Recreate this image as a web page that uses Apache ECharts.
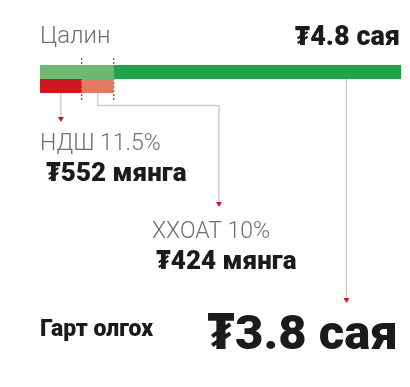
<!DOCTYPE html>
<html><head><meta charset="utf-8">
<script src="https://cdn.jsdelivr.net/npm/echarts@6/dist/echarts.min.js"></script>
<style>html,body{margin:0;padding:0;background:#fff}#c{width:410px;height:387px}</style>
</head><body><div id="c"></div>
<script>
var rows = ['Цалин', 'Суутгал'];
var ndsh = 552;      // мянга
var hhoat = 424;     // мянга
var gart = 3800;     // мянга (₮3.8 сая)
var labelTotal = '₮4.8 сая';
var labelNdsh = 'НДШ 11.5%';
var labelNdshVal = '₮552 мянга';
var labelHhoat = 'ХХОАТ 10%';
var labelHhoatVal = '₮424 мянга';
var labelGart = 'Гарт олгох';
var labelGartVal = '₮3.8 сая';

var total = ndsh + hhoat + gart;
var chart = echarts.init(document.getElementById('c'), null, {renderer: 'canvas'});
var FONT = 'Roboto, "Noto Sans", sans-serif';
var option = {
  animation: false,
  grid: {left: 40, right: 9, top: 65, height: 28},
  xAxis: {type: 'value', min: 0, max: total, show: false},
  yAxis: {type: 'category', data: rows, inverse: true, show: false},
  series: [
    {type: 'bar', stack: 's', barWidth: 14, data: [ndsh + hhoat, ndsh], itemStyle: {color: function(p){return p.dataIndex === 0 ? '#6db873' : '#d0161f';}}},
    {type: 'bar', stack: 's', barWidth: 14, data: [gart, hhoat], itemStyle: {color: function(p){return p.dataIndex === 0 ? '#21a34a' : '#e27a61';}}}
  ]
};
chart.setOption(option);

function px(v, row){ return chart.convertToPixel({gridIndex: 0}, [v, row]); }
var gTop = 65, gMid = 79, gBot = 93;
var xNdsh = px(ndsh, 0)[0];
var xBoth = px(ndsh + hhoat, 0)[0];
var xRedMid = px(ndsh / 2, 1)[0];
var xSalMid = px(ndsh + hhoat / 2, 1)[0];
var xGreen = px(ndsh + hhoat + gart * 0.81, 0)[0];
var lineStyle = {stroke: '#cdcdcd', lineWidth: 1.5, fill: null};
function arrow(x, y){
  return {type: 'polygon', shape: {points: [[x - 3, y - 5], [x + 3, y - 5], [x, y]]}, style: {fill: '#d0161f'}};
}
function txt(x, y, s, size, weight, color, align){
  return {type: 'text', x: x, y: y, style: {text: s, font: weight + ' ' + size + 'px ' + FONT, fill: color, align: align || 'left', verticalAlign: 'middle'}};
}
var gray = '#6f6f6f', dark = '#1b1b1b';
chart.setOption({graphic: [
  {type: 'line', shape: {x1: xNdsh, y1: 58, x2: xNdsh, y2: 100}, style: {stroke: '#333', lineWidth: 1, lineDash: [2, 2]}},
  {type: 'line', shape: {x1: xBoth, y1: 58, x2: xBoth, y2: 100}, style: {stroke: '#333', lineWidth: 1, lineDash: [2, 2]}},
  {type: 'polyline', shape: {points: [[xRedMid, gBot], [xRedMid, 118]]}, style: lineStyle},
  arrow(xRedMid, 122),
  {type: 'polyline', shape: {points: [[xSalMid, gBot], [xSalMid, 105.5], [219, 105.5], [219, 203]]}, style: lineStyle},
  arrow(219, 207),
  {type: 'polyline', shape: {points: [[xGreen, gMid], [xGreen, 299]]}, style: lineStyle},
  arrow(xGreen, 303),
  txt(40, 37, rows[0], 24, '300', gray),
  txt(400, 38, labelTotal, 27, '900', dark, 'right'),
  txt(40, 144, labelNdsh, 23, '300', gray),
  txt(46, 174, labelNdshVal, 26, '900', dark),
  txt(152, 232, labelHhoat, 23, '300', gray),
  txt(156, 262, labelHhoatVal, 26, '900', dark),
  txt(40, 330, labelGart, 23, '900', dark),
  txt(398, 337, labelGartVal, 49, '900', dark, 'right')
]});
</script></body></html>
